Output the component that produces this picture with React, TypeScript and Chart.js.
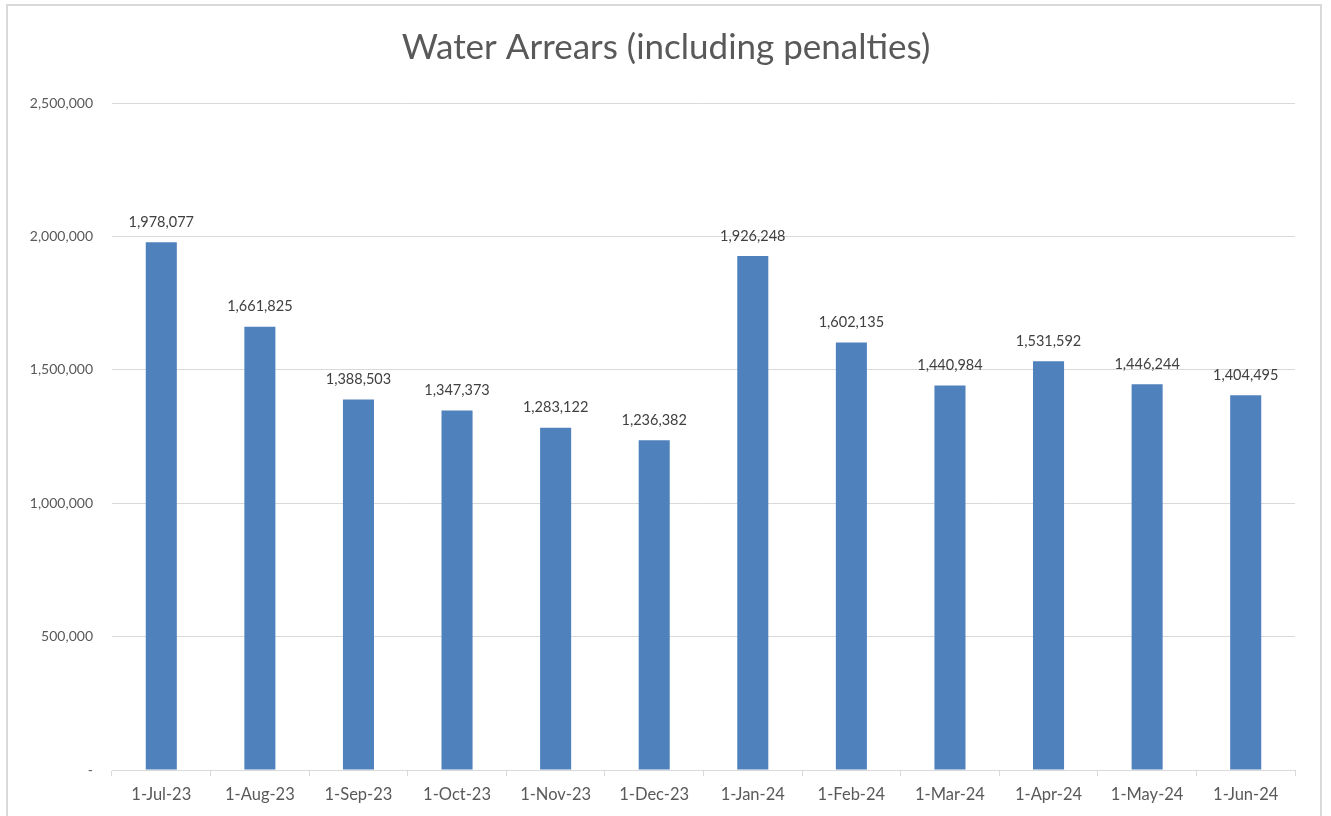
import React, { useEffect, useRef } from "react";
import { Chart, registerables } from "chart.js";

Chart.register(...registerables);

const categories = [
  "1-Jul-23", "1-Aug-23", "1-Sep-23", "1-Oct-23", "1-Nov-23", "1-Dec-23",
  "1-Jan-24", "1-Feb-24", "1-Mar-24", "1-Apr-24", "1-May-24", "1-Jun-24",
];
const arrears = [
  1978077, 1661825, 1388503, 1347373, 1283122, 1236382,
  1926248, 1602135, 1440984, 1531592, 1446244, 1404495,
];
const titleText = "Water Arrears (including penalties)";

const FONT = "Lato, 'Open Sans', sans-serif";
const fmt = (v: number) => (v === 0 ? "-" : v.toLocaleString("en-US"));

const dataLabels = {
  id: "dataLabels",
  afterDatasetsDraw(chart: any) {
    const ctx = chart.ctx;
    const meta = chart.getDatasetMeta(0);
    ctx.save();
    ctx.font = `14.5px ${FONT}`;
    ctx.fillStyle = "#404040";
    ctx.textAlign = "center";
    ctx.textBaseline = "middle";
    meta.data.forEach((bar: any, i: number) => {
      const v = chart.data.datasets[0].data[i] as number;
      ctx.fillText(fmt(v), bar.x, bar.y - 20);
    });
    ctx.restore();
  },
};

// Title centred on the chart frame (not the plot area), like the Excel original
const frameTitle = {
  id: "frameTitle",
  afterDraw(chart: any) {
    const ctx = chart.ctx;
    ctx.save();
    ctx.font = `35px ${FONT}`;
    ctx.fillStyle = "#595959";
    ctx.textAlign = "center";
    ctx.textBaseline = "middle";
    ctx.fillText(titleText, 666, 48);
    ctx.restore();
  },
};

export default function App() {
  const ref = useRef<HTMLCanvasElement>(null);
  useEffect(() => {
    if (!ref.current) return;
    const chart = new Chart(ref.current, {
      type: "bar",
      data: {
        labels: categories,
        datasets: [
          {
            data: arrears,
            backgroundColor: "#4F81BD",
            barPercentage: 0.63,
            categoryPercentage: 0.5,
          },
        ],
      },
      options: {
        responsive: false,
        animation: false,
        layout: { padding: { left: 0, right: 36, top: 103, bottom: 0 } },
        plugins: {
          legend: { display: false },
          tooltip: { enabled: false },
          title: { display: false },
        },
        scales: {
          x: {
            grid: { drawOnChartArea: false, drawTicks: true, tickLength: 6, color: "#d9d9d9", offset: true },
            border: { display: true, color: "#d9d9d9" },
            ticks: { color: "#595959", font: { family: FONT, size: 16.5 }, padding: 9, maxRotation: 0 },
            afterFit: (s: any) => { s.height = 46; },
          },
          y: {
            min: 0,
            max: 2500000,
            grid: { color: "#d9d9d9", drawTicks: false },
            border: { display: false },
            ticks: {
              stepSize: 500000,
              color: "#595959",
              font: { family: FONT, size: 14 },
              padding: 19,
              callback: (v: any) => fmt(Number(v)),
            },
            afterFit: (s: any) => { s.width = 112; },
          },
        },
      },
      plugins: [dataLabels, frameTitle],
    });
    return () => chart.destroy();
  }, []);
  return (
    <div style={{ position: "absolute", left: 0, top: 0, width: 1331, height: 816, overflow: "hidden", background: "#fff" }}>
      <div style={{ position: "absolute", left: 6, top: 4, width: 1316, height: 900, border: "2px solid #d9d9d9", boxSizing: "border-box" }} />
      <canvas ref={ref} width={1331} height={816} style={{ position: "absolute", left: 0, top: 0 }} />
    </div>
  );
}
